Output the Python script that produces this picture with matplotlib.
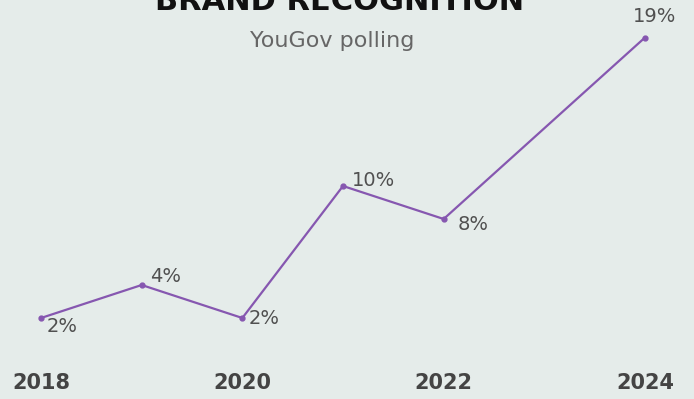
import matplotlib
matplotlib.use("Agg")
import matplotlib.pyplot as plt

# Share of respondents recognising the brand
years = [2018, 2019, 2020, 2021, 2022, 2024]
recognition = [2, 4, 2, 10, 8, 19]
tick_years = [2018, 2020, 2022, 2024]
title = "BRAND RECOGNITION"
subtitle = "YouGov polling"

BG = "#e5ecea"
LINE = "#8657b0"

W, H = 694, 399
fig = plt.figure(figsize=(W / 100, H / 100), dpi=100, facecolor=BG)
ax = fig.add_axes([41 / W, 48 / H, 604 / W, 313.5 / H], facecolor=BG)

ax.plot(years, recognition, color=LINE, lw=1.6, marker="o", ms=3.5,
        clip_on=False, zorder=3)

# label placement: (ha, dx, dy) in pixels from each point
label_pos = [("left", 6, -9), ("left", 8, 8), ("left", 6, 0),
             ("left", 9, 5), ("left", 14, -6), ("center", 10, 21)]
for x, y, (ha, dx, dy) in zip(years, recognition, label_pos):
    ax.annotate(f"{y}%", (x, y), xytext=(dx, dy), textcoords="offset pixels",
                ha=ha, va="center", fontsize=14, color="#505050",
                fontfamily="DejaVu Sans", fontweight="normal")

ax.set_xlim(2018, 2024)
ax.set_ylim(0, 19)
ax.set_xticks(tick_years)
ax.set_xticklabels([str(t) for t in tick_years], fontsize=15,
                   fontweight="bold", color="#444444")
ax.tick_params(axis="x", length=0, pad=16)
ax.set_yticks([])
for s in ax.spines.values():
    s.set_visible(False)

fig.text(0.490, 1 - 10 / H, title, ha="center", va="baseline",
         fontsize=22, fontweight="heavy", color="#111111")
fig.text(0.478, 1 - 41 / H, subtitle, ha="center", va="center",
         fontsize=16, color="#666666")

fig.savefig("out.png", dpi=100, facecolor=BG)
